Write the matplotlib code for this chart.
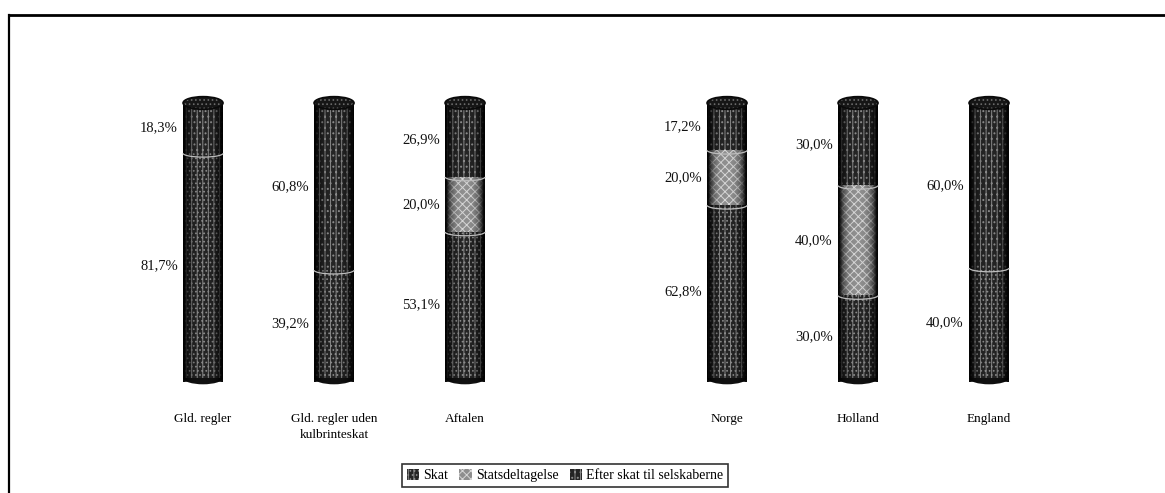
import numpy as np
import matplotlib
matplotlib.use("Agg")
import matplotlib.pyplot as plt
from matplotlib.patches import Ellipse, Rectangle, Arc
from matplotlib.lines import Line2D

plt.rcParams["font.family"] = ["Liberation Serif", "DejaVu Serif"]
plt.rcParams["hatch.linewidth"] = 0.7

# Fordeling af provenuet (%)
categories = ["Gld. regler", "Gld. regler uden\nkulbrinteskat", "Aftalen",
              "Norge", "Holland", "England"]
skat = [81.7, 39.2, 53.1, 62.8, 30.0, 40.0]
statsdeltagelse = [0.0, 0.0, 20.0, 20.0, 40.0, 0.0]
efter_skat = [18.3, 60.8, 26.9, 17.2, 30.0, 60.0]
series_names = ["Skat", "Statsdeltagelse", "Efter skat til selskaberne"]

# two groups of three cylinders with one empty slot between them
xpos = np.r_[0:3, 4:7]

face = ["#242424", "#8e8e8e", "#242424"]
hatchc = ["#8a8a8a", "#d6d6d6", "#8a8a8a"]
hatches = ["|||....", "xxxx", "...|||"]

fig = plt.figure(figsize=(11.65, 4.93), dpi=100)
ax = fig.add_axes([0.0281, 0.2054, 0.9333, 0.6136])
ax.set_xlim(-1.3, 7.0)
ax.set_ylim(-5, 105)
for s in ax.spines.values():
    s.set_visible(False)

w = 0.305
ry = 2.3  # vertical semi-axis of the cylinder caps (data units)

# edge shading for the cylinder look
u = np.linspace(-1, 1, 64)
alpha = np.clip(np.abs(u) ** 3 * 1.15, 0, 0.97)
shade = np.zeros((1, 64, 4))
shade[..., 3] = alpha

for i, x in enumerate(xpos):
    vals = [skat[i], statsdeltagelse[i], efter_skat[i]]
    total = sum(vals)
    # bottom cap
    ax.add_patch(Ellipse((x, 0), w, 2 * ry, facecolor="#111111",
                         edgecolor="none", zorder=1))
    bottom = 0.0
    for k, v in enumerate(vals):
        if v <= 0:
            continue
        ax.bar(x, v, bottom=bottom, width=w, color=face[k], hatch=hatches[k],
               edgecolor=hatchc[k], linewidth=0, zorder=2)
        ax.text(x - w / 2 - 0.04, bottom + v / 2,
                f"{v:.1f}%".replace(".", ","), ha="right", va="center",
                fontsize=10.5, color="#111111")
        if bottom > 0:
            ax.add_patch(Arc((x, bottom), w, 1.2 * ry, theta1=180,
                             theta2=360, color="#bdbdbd", lw=0.9, zorder=4))
        bottom += v
    ax.imshow(shade, extent=[x - w / 2, x + w / 2, -ry * 0.6, total],
              aspect="auto", zorder=3, interpolation="bilinear")
    # top cap
    ax.add_patch(Ellipse((x, total), w, 2 * ry, facecolor="#161616",
                         edgecolor="#6a6a6a", hatch="....", lw=0, zorder=5))
    ax.add_patch(Ellipse((x, total), w, 2 * ry, facecolor="none",
                         edgecolor="#0a0a0a", lw=1.2, zorder=6))

ax.set_xticks(xpos)
ax.set_xticklabels(categories, fontsize=9.5, linespacing=1.5)
ax.tick_params(axis="x", length=0, pad=15)
ax.set_yticks([])

handles = [Rectangle((0, 0), 1, 1, facecolor=face[k], hatch=hatches[k],
                     edgecolor=hatchc[k], linewidth=0) for k in range(3)]
leg = fig.legend(handles, series_names, loc="center",
                 bbox_to_anchor=(0.485, 0.0355), ncol=3, fontsize=10,
                 frameon=True, fancybox=False, handlelength=0.9,
                 handleheight=0.9, handletextpad=0.3, columnspacing=0.8,
                 borderpad=0.35, borderaxespad=0)
leg.get_frame().set_edgecolor("black")
leg.get_frame().set_linewidth(1.2)

# outer frame of the figure panel
fig.add_artist(Line2D([9 / 1165, 1.0], [1 - 15 / 493, 1 - 15 / 493],
                      transform=fig.transFigure, color="black", lw=2))
fig.add_artist(Line2D([9 / 1165, 9 / 1165], [0.0, 1 - 15 / 493],
                      transform=fig.transFigure, color="black", lw=1.6))

fig.savefig("out.png", dpi=100)
